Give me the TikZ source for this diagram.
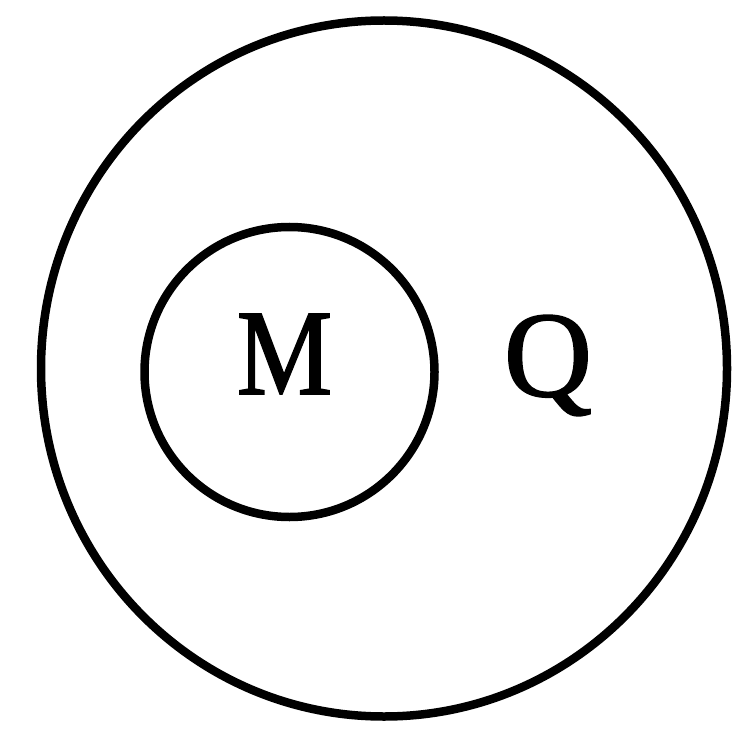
\documentclass[tikz,border=0pt]{standalone}
\usepackage{fontspec}
\setmainfont{Liberation Serif}
\newfontfamily\lblfont{Liberation Serif}[BoldFont=Liberation Serif,BoldFeatures={FakeBold=1.5}]
\begin{document}
\begin{tikzpicture}[x=1pt,y=-1pt,
  ring/.style={draw=black,line width=8.5pt},
  lbl/.style={anchor=base,inner sep=0pt,font=\lblfont\bfseries\fontsize{122}{122}\selectfont}]
\useasboundingbox (0,0) rectangle (733,735);
\draw[ring] (384,368.5) ellipse [x radius=343,y radius=348];
\draw[ring] (289.5,372) circle [radius=145];
\node[lbl,xscale=0.88] (m) at (284.5,394) {M};
\node[lbl] (q) at (548,396) {Q};
\end{tikzpicture}
\end{document}
